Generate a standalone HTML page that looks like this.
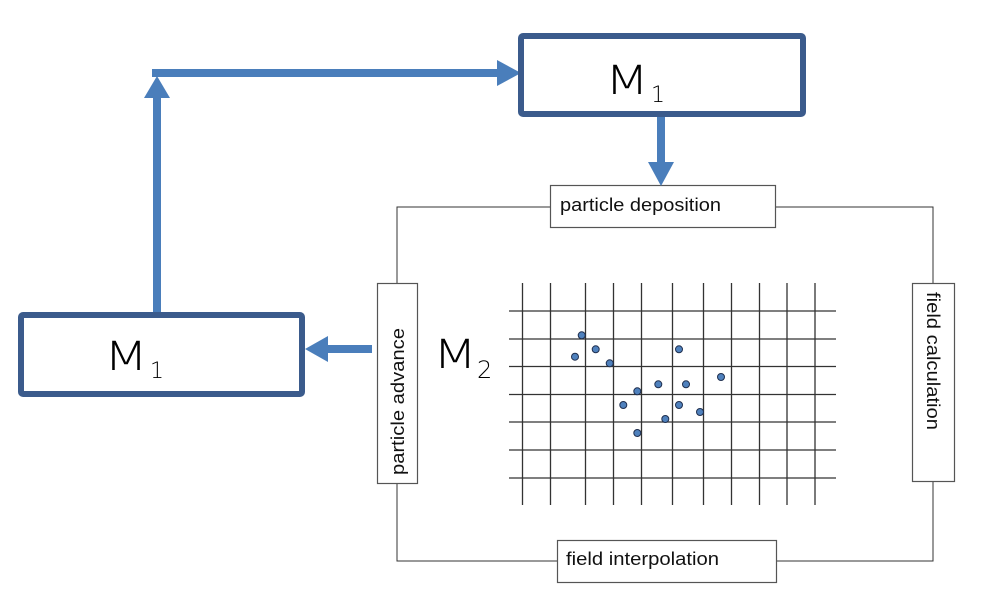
<!DOCTYPE html>
<html><head><meta charset="utf-8"><style>
html,body{margin:0;padding:0;background:#fff;}
svg{display:block}
</style></head><body>
<svg width="982" height="604" xmlns="http://www.w3.org/2000/svg">
<rect x="0" y="0" width="982" height="604" fill="#fff"/>
<g stroke="#333" stroke-width="1" fill="none">
<polyline points="397,283 397,207 550,207"/>
<polyline points="775,207 933,207 933,283"/>
<polyline points="933,481 933,561 776,561"/>
<polyline points="557,561 397,561 397,483"/>
</g>
<g stroke="#333" stroke-width="1.3">
<line x1="509" x2="836" y1="311" y2="311"/>
<line x1="509" x2="836" y1="339" y2="339"/>
<line x1="509" x2="836" y1="366.5" y2="366.5"/>
<line x1="509" x2="836" y1="394.5" y2="394.5"/>
<line x1="509" x2="836" y1="422" y2="422"/>
<line x1="509" x2="836" y1="450" y2="450"/>
<line x1="509" x2="836" y1="478" y2="478"/>
<line y1="283" y2="505" x1="522.5" x2="522.5"/>
<line y1="283" y2="505" x1="550.5" x2="550.5"/>
<line y1="283" y2="505" x1="585.5" x2="585.5"/>
<line y1="283" y2="505" x1="613.5" x2="613.5"/>
<line y1="283" y2="505" x1="641.5" x2="641.5"/>
<line y1="283" y2="505" x1="672.5" x2="672.5"/>
<line y1="283" y2="505" x1="703.5" x2="703.5"/>
<line y1="283" y2="505" x1="731.5" x2="731.5"/>
<line y1="283" y2="505" x1="759.5" x2="759.5"/>
<line y1="283" y2="505" x1="787" x2="787"/>
<line y1="283" y2="505" x1="815" x2="815"/>
</g>
<g fill="#4f81bd" stroke="#1f2f4f" stroke-width="1">
<circle cx="581.7" cy="335.3" r="3.5"/>
<circle cx="595.7" cy="349.3" r="3.5"/>
<circle cx="575" cy="356.7" r="3.5"/>
<circle cx="609.7" cy="363.3" r="3.5"/>
<circle cx="679" cy="349.3" r="3.5"/>
<circle cx="721" cy="377" r="3.5"/>
<circle cx="658.3" cy="384.3" r="3.5"/>
<circle cx="686" cy="384.3" r="3.5"/>
<circle cx="637.3" cy="391.3" r="3.5"/>
<circle cx="623.3" cy="405" r="3.5"/>
<circle cx="679" cy="405" r="3.5"/>
<circle cx="700" cy="412" r="3.5"/>
<circle cx="665.3" cy="419" r="3.5"/>
<circle cx="637.3" cy="433" r="3.5"/>
</g>
<g fill="#fff" stroke="#555" stroke-width="1.2">
<rect x="550.5" y="185.5" width="225" height="42"/>
<rect x="377.5" y="283.5" width="40" height="200"/>
<rect x="912.5" y="283.5" width="42" height="198"/>
<rect x="557.5" y="540.5" width="219" height="42"/>
</g>
<g font-family="'Liberation Sans',sans-serif" font-size="18" fill="#111">
<text x="560" y="211" textLength="161" lengthAdjust="spacingAndGlyphs">particle deposition</text>
<text x="566" y="565" textLength="153" lengthAdjust="spacingAndGlyphs">field interpolation</text>
<text transform="translate(404,475) rotate(-90)" textLength="147" lengthAdjust="spacingAndGlyphs">particle advance</text>
<text transform="translate(927,292) rotate(90)" textLength="138" lengthAdjust="spacingAndGlyphs">field calculation</text>
</g>
<g fill="#4a7ebb">
<rect x="152" y="69" width="348" height="8"/>
<polygon points="497,60 521,73 497,86"/>
<rect x="153" y="96" width="8" height="216"/>
<polygon points="144,98 157,76 170,98"/>
<rect x="657" y="115" width="8" height="50"/>
<polygon points="648,162 661,186 674,162"/>
<rect x="326" y="345" width="46" height="8"/>
<polygon points="328,336 305,349 328,362"/>
</g>
<g fill="#fff" stroke="#3b5b8c" stroke-width="6">
<rect x="521" y="36" width="282" height="78" rx="2"/>
<rect x="21" y="315" width="281" height="79" rx="2"/>
</g>
<g font-family="'DejaVu Sans',sans-serif" font-weight="300" fill="#000">
<text x="605" y="94" font-size="40" textLength="44" lengthAdjust="spacingAndGlyphs">M</text><text x="651" y="102" font-size="22">1</text>
<text x="104" y="370" font-size="40" textLength="44" lengthAdjust="spacingAndGlyphs">M</text><text x="150" y="378" font-size="22">1</text>
<text x="433" y="368" font-size="40" textLength="44" lengthAdjust="spacingAndGlyphs">M</text><text x="477" y="378" font-size="24">2</text>
</g>
</svg>
</body></html>
